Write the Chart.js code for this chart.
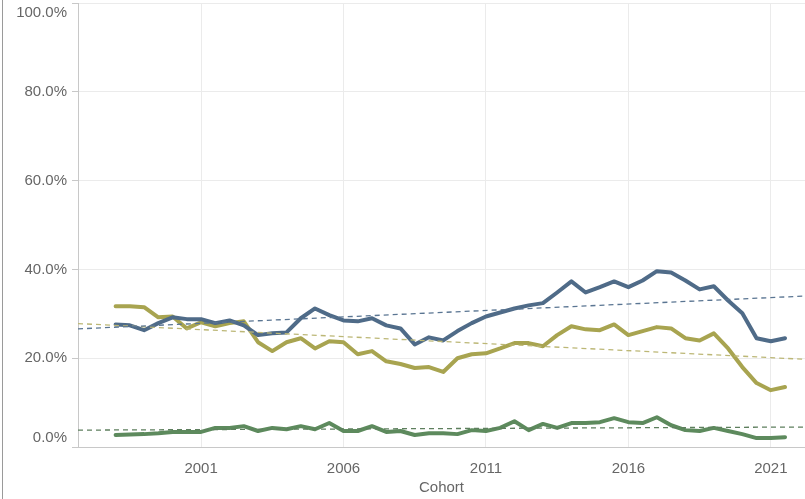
<!DOCTYPE html>
<html lang="en">
<head>
    <meta charset="UTF-8">
    <title>Cohort</title>
    <script src="https://cdn.jsdelivr.net/npm/chart.js@4.4.0/dist/chart.umd.min.js"></script>
    <style>
        html, body { margin: 0; padding: 0; background: #fff; }
        #wrap { position: relative; width: 805px; height: 499px; }
    </style>
</head>
<body>
<div id="wrap"><canvas id="cohortChart"></canvas></div>
<script>
    // cohort positions (two per year)
    var cohorts = [1998, 1998.5, 1999, 1999.5, 2000, 2000.5, 2001, 2001.5, 2002, 2002.5,
        2003, 2003.5, 2004, 2004.5, 2005, 2005.5, 2006, 2006.5, 2007, 2007.5,
        2008, 2008.5, 2009, 2009.5, 2010, 2010.5, 2011, 2011.5, 2012, 2012.5,
        2013, 2013.5, 2014, 2014.5, 2015, 2015.5, 2016, 2016.5, 2017, 2017.5,
        2018, 2018.5, 2019, 2019.5, 2020, 2020.5, 2021, 2021.5];

    var blueValues = [27.6, 27.4, 26.3, 27.9, 29.2, 28.8, 28.8, 27.9, 28.5, 27.4,
        25.2, 25.6, 25.8, 29.0, 31.2, 29.7, 28.5, 28.3, 29.0, 27.4,
        26.7, 23.1, 24.7, 24.0, 26.1, 27.9, 29.4, 30.3, 31.2, 31.9,
        32.4, 34.8, 37.3, 34.8, 36.0, 37.3, 36.0, 37.5, 39.6, 39.3,
        37.5, 35.5, 36.2, 33.0, 30.1, 24.5, 23.8, 24.5];

    var oliveValues = [31.7, 31.7, 31.5, 29.2, 29.4, 26.7, 28.1, 27.2, 27.9, 28.3,
        23.6, 21.6, 23.6, 24.5, 22.2, 23.8, 23.6, 20.9, 21.6, 19.3,
        18.7, 17.8, 18.0, 16.9, 20.0, 20.9, 21.1, 22.2, 23.4, 23.4,
        22.7, 25.2, 27.2, 26.5, 26.3, 27.6, 25.2, 26.1, 27.0, 26.7,
        24.5, 24.0, 25.6, 22.2, 18.0, 14.4, 12.8, 13.5];

    var greenValues = [2.7, 2.8, 2.9, 3.1, 3.4, 3.4, 3.4, 4.3, 4.3, 4.7,
        3.6, 4.3, 4.0, 4.7, 4.0, 5.4, 3.6, 3.6, 4.7, 3.4,
        3.6, 2.7, 3.1, 3.1, 2.9, 3.8, 3.6, 4.3, 5.8, 3.8,
        5.2, 4.3, 5.4, 5.4, 5.6, 6.5, 5.6, 5.4, 6.7, 4.9,
        3.8, 3.6, 4.3, 3.6, 2.9, 2.0, 2.0, 2.2];

    // trend lines, read at the left and right ends of the axis
    var trendYears = [1996.68, 2022.2];
    var blueTrend = [26.6, 34.0];
    var oliveTrend = [27.8, 19.75];
    var greenTrend = [3.8, 4.5];

    var xTickYears = [2001, 2006, 2011, 2016, 2021];
    var yTickValues = [0, 20, 40, 60, 80, 100];

    var FONT = '"Liberation Sans", Arial, sans-serif';
    var TEXT = '#666666';

    function pts(xs, ys) {
        return xs.map(function (x, i) { return { x: x, y: ys[i] }; });
    }

    function solid(label, values, color) {
        return {
            label: label,
            data: pts(cohorts, values),
            borderColor: color,
            borderWidth: 4,
            pointRadius: 0,
            tension: 0,
            borderJoinStyle: 'round',
            borderCapStyle: 'round'
        };
    }

    function trend(label, values, color) {
        return {
            label: label,
            data: pts(trendYears, values),
            borderColor: color,
            borderWidth: 1.3,
            borderDash: [5, 4],
            pointRadius: 0
        };
    }

    // page frame line on the left + y labels (end labels kept inside the plot)
    var framePlugin = {
        id: 'frame',
        beforeDraw: function (chart) {
            var ctx = chart.ctx;
            ctx.save();
            ctx.strokeStyle = '#9a9a9a';
            ctx.lineWidth = 1;
            ctx.beginPath();
            ctx.moveTo(2.5, 0);
            ctx.lineTo(2.5, chart.height);
            ctx.stroke();
            ctx.restore();
        },
        afterDraw: function (chart) {
            var ctx = chart.ctx;
            var yScale = chart.scales.y;
            var area = chart.chartArea;
            ctx.save();
            ctx.font = '15px ' + FONT;
            ctx.fillStyle = TEXT;
            ctx.textAlign = 'right';
            ctx.textBaseline = 'middle';
            yTickValues.forEach(function (v) {
                var py = yScale.getPixelForValue(v);
                py = Math.min(Math.max(py, area.top + 10), area.bottom - 9);
                ctx.fillText(v.toFixed(1) + '%', 67, py);
            });
            ctx.restore();
        }
    };

    new Chart(document.getElementById('cohortChart'), {
        type: 'line',
        data: {
            datasets: [
                trend('Trend 1', blueTrend, '#5a7592'),
                trend('Trend 2', oliveTrend, '#bcb776'),
                trend('Trend 3', greenTrend, '#5e7f5e'),
                solid('Group 1', blueValues, '#4f6b88'),
                solid('Group 2', oliveValues, '#a8a450'),
                solid('Group 3', greenValues, '#5d8a5d')
            ]
        },
        options: {
            responsive: true,
            maintainAspectRatio: false,
            animation: false,
            layout: { padding: { top: 3, right: 0, bottom: 0, left: 0 } },
            plugins: {
                legend: { display: false },
                tooltip: { enabled: false }
            },
            scales: {
                x: {
                    type: 'linear',
                    min: trendYears[0],
                    max: trendYears[1],
                    afterBuildTicks: function (scale) {
                        scale.ticks = xTickYears.map(function (v) { return { value: v }; });
                    },
                    afterFit: function (scale) { scale.height = 52; },
                    grid: { color: '#ebebeb', drawTicks: false },
                    border: { display: true, color: '#c8c8c8' },
                    ticks: {
                        padding: 13,
                        color: TEXT,
                        font: { family: FONT, size: 15 },
                        maxRotation: 0,
                        callback: function (v) { return String(v); }
                    },
                    title: {
                        display: true,
                        text: 'Cohort',
                        color: TEXT,
                        font: { family: FONT, size: 15 },
                        padding: { top: 0, bottom: 2 }
                    }
                },
                y: {
                    min: 0,
                    max: 100,
                    afterBuildTicks: function (scale) {
                        scale.ticks = yTickValues.map(function (v) { return { value: v }; });
                    },
                    afterFit: function (scale) { scale.width = 78; },
                    grid: {
                        color: function (c) { return c.tick && c.tick.value === 0 ? 'rgba(0,0,0,0)' : '#ebebeb'; },
                        tickColor: '#c8c8c8',
                        tickLength: 6
                    },
                    border: { display: true, color: '#c8c8c8' },
                    ticks: { display: false }
                }
            }
        },
        plugins: [framePlugin]
    });
</script>
</body>
</html>
